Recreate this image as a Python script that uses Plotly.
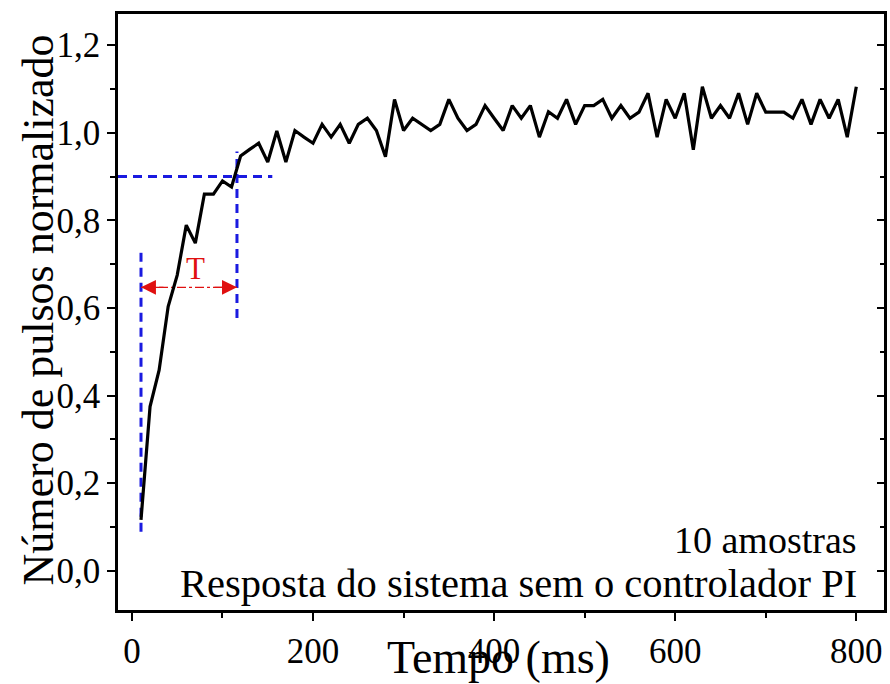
import plotly.graph_objects as go

# Tempo (ms) e número de pulsos normalizado (média de 10 amostras)
tempo_ms = list(range(10, 810, 10))
pulsos_norm = [
    0.116, 0.375, 0.458, 0.603, 0.675, 0.789, 0.748, 0.860, 0.860, 0.890,
    0.876, 0.947, 0.962, 0.976, 0.933, 1.004, 0.933, 1.005, 0.990, 0.976,
    1.019, 0.990, 1.019, 0.976, 1.019, 1.033, 1.005, 0.945, 1.076, 1.005,
    1.033, 1.019, 1.005, 1.019, 1.076, 1.033, 1.005, 1.019, 1.062, 1.033,
    1.005, 1.062, 1.033, 1.062, 0.990, 1.048, 1.033, 1.076, 1.019, 1.062,
    1.062, 1.076, 1.033, 1.062, 1.033, 1.047, 1.090, 0.990, 1.076, 1.033,
    1.090, 0.961, 1.105, 1.033, 1.062, 1.033, 1.090, 1.019, 1.090, 1.047,
    1.047, 1.047, 1.033, 1.076, 1.019, 1.076, 1.033, 1.076, 0.990, 1.105,
]

# Marcadores da constante de tempo T (90 % do valor final)
nivel_90 = 0.9
t_inicio = 10
t_fim = 116
nivel_seta = 0.647
faixa_inicio = [0.089, 0.737]
faixa_fim = [0.577, 0.957]
x_limite_90 = [-15.4, 155]

x_ticks = [0, 200, 400, 600, 800]
y_ticks = [0.0, 0.2, 0.4, 0.6, 0.8, 1.0, 1.2]

FONTE = "Liberation Serif"
AZUL = "#1a1ae0"
VERMELHO = "#e01010"

fig = go.Figure()

tracejado_azul = dict(color=AZUL, width=3, dash="9px,6px")
fig.add_trace(go.Scatter(x=x_limite_90, y=[nivel_90, nivel_90], mode="lines",
                         line=tracejado_azul, hoverinfo="skip"))
fig.add_trace(go.Scatter(x=[t_inicio, t_inicio], y=faixa_inicio, mode="lines",
                         line=tracejado_azul, hoverinfo="skip"))
fig.add_trace(go.Scatter(x=[t_fim, t_fim], y=faixa_fim, mode="lines",
                         line=tracejado_azul, hoverinfo="skip"))
fig.add_trace(go.Scatter(x=[t_inicio, t_fim], y=[nivel_seta, nivel_seta], mode="lines",
                         line=dict(color=VERMELHO, width=1.2, dash="dashdot"),
                         hoverinfo="skip"))

fig.add_trace(go.Scatter(x=tempo_ms, y=pulsos_norm, mode="lines",
                         line=dict(color="black", width=3.2), name="resposta"))

# eixo espelhado à direita, com marcas para dentro
fig.add_trace(go.Scatter(x=[None], y=[None], yaxis="y2", showlegend=False,
                         hoverinfo="skip"))

# pontas de seta do intervalo T
for x_ponta, deslocamento in [(t_inicio, 24), (t_fim, -24)]:
    fig.add_annotation(x=x_ponta, y=nivel_seta, ax=deslocamento, ay=0,
                       xref="x", yref="y", text="", showarrow=True,
                       arrowhead=2, arrowsize=2.3, arrowwidth=1.3,
                       arrowcolor=VERMELHO)

fig.add_annotation(x=(t_inicio + t_fim) / 2 + 7, y=0.69, xref="x", yref="y",
                   text="T", showarrow=False,
                   font=dict(family=FONTE, size=31, color=VERMELHO))

fig.add_annotation(x=803, y=0.07, xref="x", yref="y", xanchor="right",
                   yanchor="middle", text="10 amostras", showarrow=False,
                   font=dict(family=FONTE, size=38, color="black"))
fig.add_annotation(x=803, y=-0.028, xref="x", yref="y", xanchor="right",
                   yanchor="middle", text="Resposta do sistema sem o controlador PI",
                   showarrow=False, font=dict(family=FONTE, size=40.5, color="black"))

# títulos dos eixos
fig.add_annotation(x=0.497, y=-0.08, xref="paper", yref="paper",
                   xanchor="center", yanchor="middle", text="Tempo (ms)",
                   showarrow=False, font=dict(family=FONTE, size=46, color="black"))
fig.add_annotation(x=-0.104, y=0.503, xref="paper", yref="paper",
                   xanchor="center", yanchor="middle", textangle=-90,
                   text="Número de pulsos normalizado", showarrow=False,
                   font=dict(family=FONTE, size=44, color="black"))

eixo_comum = dict(showgrid=False, zeroline=False, showline=True,
                  linecolor="black", linewidth=2.5, ticks="outside",
                  ticklen=8, tickwidth=2, tickcolor="black")

fig.update_layout(
    width=890, height=684,
    margin=dict(l=118, r=3, t=14, b=74),
    paper_bgcolor="white", plot_bgcolor="white",
    font=dict(family=FONTE, size=35, color="black"),
    showlegend=False,
    separators=",.",
    xaxis=dict(**eixo_comum, range=[-15.4, 830.6], tickvals=x_ticks,
               mirror=True,
               minor=dict(dtick=100, tick0=0, ticks="outside", ticklen=5,
                          tickwidth=2, tickcolor="black")),
    yaxis=dict(**eixo_comum, range=[-0.0895, 1.271], tickvals=y_ticks,
               tickformat=".1f", mirror=True,
               minor=dict(dtick=0.1, tick0=0, ticks="outside", ticklen=5,
                          tickwidth=2, tickcolor="black")),
    yaxis2=dict(overlaying="y", side="right", range=[-0.0895, 1.271],
                showgrid=False, zeroline=False, showline=False,
                showticklabels=False, ticks="inside", ticklen=7,
                tickwidth=2, tickcolor="black", tickvals=y_ticks,
                minor=dict(dtick=0.1, tick0=0, ticks="inside", ticklen=4,
                           tickwidth=2, tickcolor="black")),
)
fig.update_xaxes(tickfont=dict(family=FONTE, size=35, color="black"))
fig.update_yaxes(tickfont=dict(family=FONTE, size=35, color="black"))

fig.write_html("out.html")
